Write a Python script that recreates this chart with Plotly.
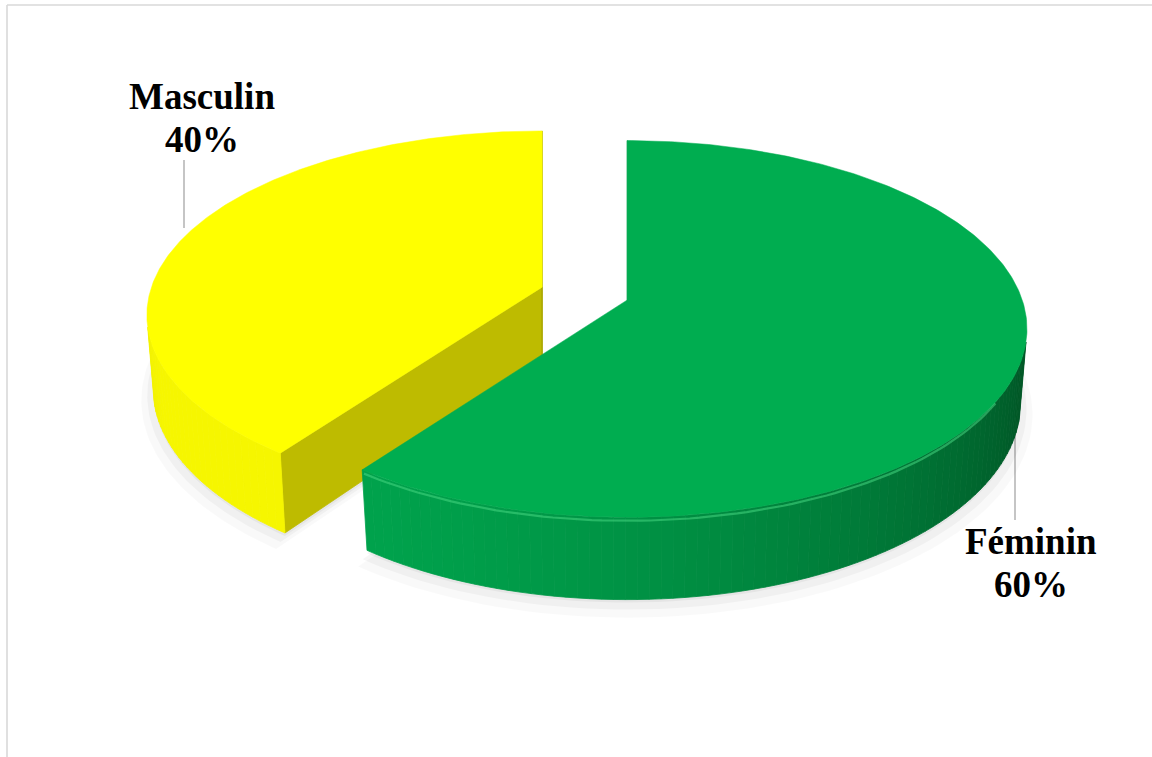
import numpy as np
import plotly.graph_objects as go

# ---------------- data ----------------
categories = ["Féminin", "Masculin"]
values = [60, 40]

# ---------------- style ----------------
top_colors = ["#00AD50", "#FFFF00"]
wall_dark = [(0, 78, 34), (166, 162, 0)]
wall_light = [(0, 162, 76), (246, 246, 0)]
label_pos = {"Féminin": (1031, 555, 598), "Masculin": (202, 110, 153)}  # x, baseline1, baseline2
leader = {"Féminin": (1015, 420, 520), "Masculin": (184, 160, 228)}
FONT = "Liberation Serif, Times New Roman, serif"
FS = 37

# projection parameters (pixel space)
CX, CY = 584.5, 293.5
KX = 2290.0
KY = 2344.0
D = 5.83
PHI = np.radians(26.9)
S, C = np.sin(PHI), np.cos(PHI)
H = 0.207
EXPLODE = 0.114
LIGHT = np.array([-0.6, -0.5, 0.6])
LIGHT = LIGHT / np.linalg.norm(LIGHT)


def depth(v, z):
    return D + np.asarray(v, float) * C - np.asarray(z, float) * S


def proj(u, v, z, ou, ov):
    """Project, keeping the horizontal scale centred on the slice centre."""
    u = np.asarray(u, float)
    v = np.asarray(v, float)
    z = np.asarray(z, float)
    xc = CX + KX * ou / depth(ov, 0.0)
    Y = v * S + z * C
    dep = depth(v, z)
    return xc + KX * (u - ou) / dep, CY - KY * Y / dep


def visible(n, p):
    nc = np.array([n[0], n[1] * S + n[2] * C, n[1] * C - n[2] * S])
    pc = np.array([p[0], p[1] * S + p[2] * C, D + p[1] * C - p[2] * S])
    return float(nc @ pc) < 0


def shade(i, n):
    d = float(np.dot(n, LIGHT))
    t = np.clip((d + 0.6) / 1.36, 0, 1)
    c = [int(round(a + t * (b - a))) for a, b in zip(wall_dark[i], wall_light[i])]
    return "rgb(%d,%d,%d)" % tuple(c)


fig = go.Figure()


def poly(xs, ys, color, lw=0.8, line_color=None):
    fig.add_trace(go.Scatter(
        x=list(xs) + [xs[0]], y=list(ys) + [ys[0]], mode="lines", fill="toself",
        fillcolor=color, line=dict(color=line_color or color, width=lw),
        hoverinfo="skip", showlegend=False))


total = float(sum(values))
slices = []
start = 0.0
for i, v in enumerate(values):
    span = 360.0 * v / total
    slices.append((i, start, start + span))
    start += span

# soft shadows under the slices
for i, a0, a1 in slices:
    mid = np.radians((a0 + a1) / 2)
    ou, ov = EXPLODE * np.sin(mid), EXPLODE * np.cos(mid)
    th = np.radians(np.linspace(a0, a1, 120))
    for grow, dy, alpha in [(1.03, 10, 0.022), (1.015, 6, 0.035), (1.0, 3, 0.045)]:
        us = np.concatenate([[ou], ou + grow * np.sin(th)])
        vs = np.concatenate([[ov], ov + grow * np.cos(th)])
        x, y = proj(us, vs, np.full(us.shape, -H), ou, ov)
        poly(x, y + dy, "rgba(0,0,0,%.3f)" % alpha, lw=0)

# draw back slice (Masculin) first, then front slice (Féminin)
for i, a0, a1 in sorted(slices, key=lambda s: -s[0]):
    mid = np.radians((a0 + a1) / 2)
    ou, ov = EXPLODE * np.sin(mid), EXPLODE * np.cos(mid)

    # radial walls
    for ang, sgn in [(a0, -1), (a1, 1)]:
        t = np.radians(ang)
        n = np.array([sgn * np.cos(t), -sgn * np.sin(t), 0.0])
        rim = (ou + np.sin(t), ov + np.cos(t))
        p = np.array([(ou + rim[0]) / 2, (ov + rim[1]) / 2, -H / 2])
        if visible(n, p):
            us = [ou, rim[0], rim[0], ou]
            vs = [ov, rim[1], rim[1], ov]
            zs = [0, 0, -H, -H]
            x, y = proj(us, vs, zs, ou, ov)
            poly(x, y, shade(i, n))

    # outer cylinder wall
    steps = np.linspace(a0, a1, int((a1 - a0) / 1.5) + 2)
    for s0, s1 in zip(steps[:-1], steps[1:]):
        tm = np.radians((s0 + s1) / 2)
        n = np.array([np.sin(tm), np.cos(tm), 0.0])
        p = np.array([ou + np.sin(tm), ov + np.cos(tm), -H / 2])
        if not visible(n, p):
            continue
        t0, t1 = np.radians(s0), np.radians(s1)
        us = [ou + np.sin(t0), ou + np.sin(t1), ou + np.sin(t1), ou + np.sin(t0)]
        vs = [ov + np.cos(t0), ov + np.cos(t1), ov + np.cos(t1), ov + np.cos(t0)]
        zs = [0, 0, -H, -H]
        x, y = proj(us, vs, zs, ou, ov)
        poly(x, y, shade(i, n))

    # top face
    th = np.radians(np.linspace(a0, a1, 300))
    us = np.concatenate([[ou], ou + np.sin(th)])
    vs = np.concatenate([[ov], ov + np.cos(th)])
    x, y = proj(us, vs, np.zeros(us.shape), ou, ov)
    poly(x, y, top_colors[i], lw=0.5)

    # subtle bevel highlight along the front rim of the green slice
    if i == 0:
        lo = max(a0, 120)
        th = np.radians(np.linspace(lo, a1, 80))
        x, y = proj(ou + 0.995 * np.sin(th), ov + 0.995 * np.cos(th),
                    np.full(th.shape, -0.012), ou, ov)
        fig.add_trace(go.Scatter(x=x, y=y, mode="lines",
                                 line=dict(color="rgba(70,215,130,0.55)", width=2.2),
                                 hoverinfo="skip", showlegend=False))

# ---------------- labels ----------------
annotations = []
shapes = [
    dict(type="line", x0=7, y0=5, x1=1160, y1=5, line=dict(color="#D9D9D9", width=1.6), layer="below"),
    dict(type="line", x0=7, y0=5, x1=7, y1=770, line=dict(color="#D9D9D9", width=1.6), layer="below"),
]
for cat, v in zip(categories, values):
    x, b1, b2 = label_pos[cat]
    pct = "%d%%" % round(100 * v / total)
    for txt, b in [(cat, b1), (pct, b2)]:
        annotations.append(dict(x=x, y=b + 9, text="<b>%s</b>" % txt, showarrow=False,
                                xanchor="center", yanchor="bottom",
                                font=dict(family=FONT, size=FS, color="black")))
    lx, ly0, ly1 = leader[cat]
    shapes.append(dict(type="line", x0=lx, y0=ly0, x1=lx, y1=ly1,
                       line=dict(color="#A6A6A6", width=1.3), layer="below"))

fig.update_layout(
    width=1152, height=757,
    margin=dict(l=0, r=0, t=0, b=0),
    paper_bgcolor="white", plot_bgcolor="white",
    xaxis=dict(range=[0, 1152], visible=False, fixedrange=True),
    yaxis=dict(range=[757, 0], visible=False, fixedrange=True),
    showlegend=False,
    annotations=annotations,
    shapes=shapes,
)

fig.write_html("out.html")
